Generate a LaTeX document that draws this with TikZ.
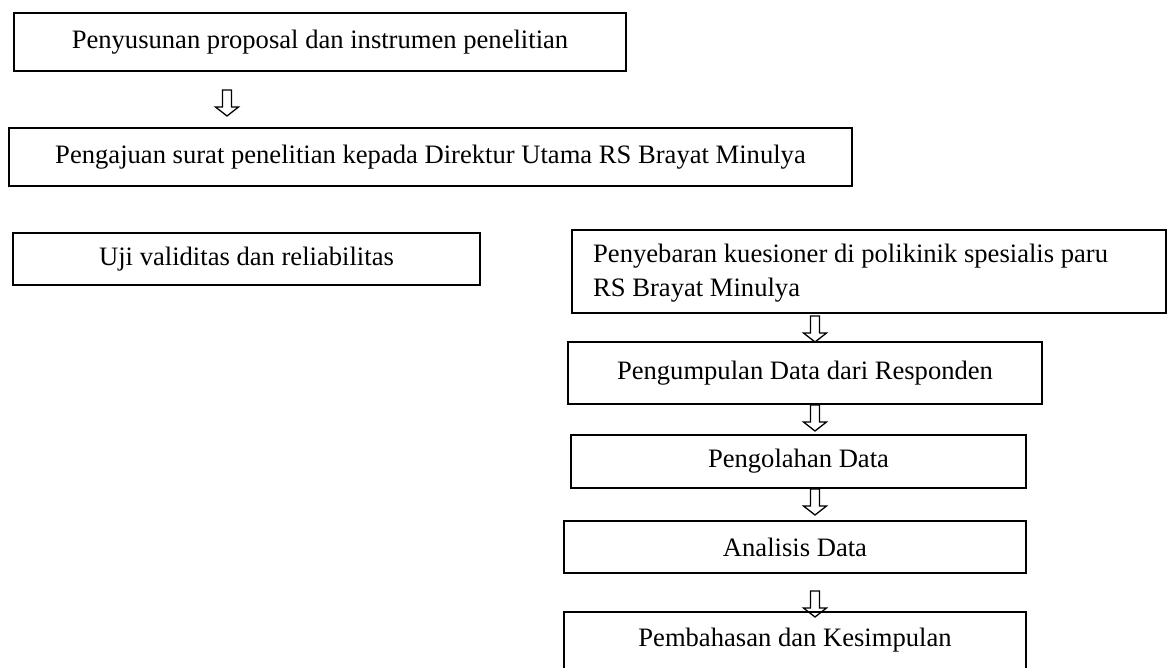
\documentclass[tikz,border=0pt]{standalone}
\usepackage{fontspec}
\setmainfont{Liberation Serif}
\begin{document}
\begin{tikzpicture}[x=1pt,y=-1pt,
  txt/.style={inner sep=0pt, font=\fontsize{26.6}{34}\selectfont},
  box/.style={txt, draw, line width=1.8pt},
  downarr/.pic={\draw[line width=1.3pt, line join=miter] (-4.5,0) -- (4.5,0) -- (4.5,17) -- (11.5,17) -- (0,26) -- (-11.5,17) -- (-4.5,17) -- cycle;}]
\useasboundingbox (0,0) rectangle (1167,668);
\node[box, minimum width=612, minimum height=58] (b1) at (320,42) {Penyusunan proposal dan instrumen penelitian};
\node[box, minimum width=843, minimum height=58] (b2) at (430.5,157) {Pengajuan surat penelitian kepada Direktur Utama RS Brayat Minulya};
\node[box, minimum width=467, minimum height=52] (b3) at (246.5,259) {Uji validitas dan reliabilitas};
\node[box, minimum width=594, minimum height=83] (b4) at (869,271.5) {};
\node[txt, align=left, anchor=west] (b4t) at (593,273) {Penyebaran kuesioner di polikinik spesialis paru\\RS Brayat Minulya};
\node[box, minimum width=474, minimum height=62] (b5) at (805,373) {Pengumpulan Data dari Responden};
\node[box, minimum width=455, minimum height=53] (b6) at (798.5,461.5) {Pengolahan Data};
\node[box, minimum width=462, minimum height=52] (b7) at (795,547) {Analisis Data};
\node[box, minimum width=462, anchor=north, text height=35pt, text depth=32pt] (b8) at (795,611) {Pembahasan dan Kesimpulan};
\coordinate (a1) at (227,90);
\coordinate (a2) at (815,316);
\coordinate (a3) at (815,405);
\coordinate (a4) at (815,489);
\coordinate (a5) at (815,591);
\foreach \c in {a1,a2,a3,a4,a5} \pic at (\c) {downarr};
\end{tikzpicture}
\end{document}
